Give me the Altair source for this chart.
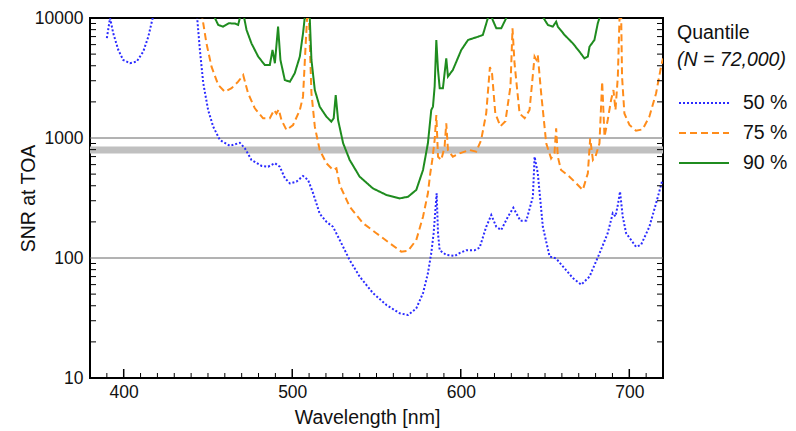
import altair as alt
import pandas as pd

# ---------------- data ----------------
wl_50 = [390, 391.9, 393.8, 396.8, 399.7, 403.7, 407.7, 411.6, 414.6, 417.2, 420, 440,
         443.6, 445.2, 447.2, 450.1, 453.1, 457.1, 463, 468.9, 471.9, 475.8, 481.8, 485.7,
         489.7, 492.6, 495.6, 498.6, 502.5, 506.4, 509.4, 512.4, 516.3, 520.3, 524.2, 528.2,
         534.1, 540, 547.9, 555.9, 563.8, 568.7, 573.6, 577.6, 580.5, 582.5, 583.9, 585.1,
         585.7, 586.5, 587.5, 591.4, 596.4, 599.3, 603.3, 608.2, 611.2, 615.1, 618.1, 621.1,
         624, 628, 631.2, 635.4, 638.9, 642.8, 643.8, 645.7, 648.7, 652.7, 656.6, 662.6,
         666.5, 671.5, 676.4, 682.3, 687.2, 690.2, 691.8, 693.2, 694.5, 696.1, 698.1, 704,
         707, 711.9, 715.9, 719.4]
snr_50 = [6800, 10000, 7450, 5410, 4470, 4200, 4330, 5250, 6980, 10000, 16000, 16000,
          10000, 5410, 2860, 1710, 1242, 962, 860, 912, 820, 656, 585, 577,
          617, 577, 464, 419, 433, 482, 447, 346, 234, 200, 182, 141,
          96, 70, 51, 40.6, 34.6, 33.5, 38, 51, 74.5, 110, 161, 268,
          346, 160, 116, 106, 104, 110, 116, 116, 122, 182, 228, 182,
          171, 221, 262, 204, 205, 324, 698, 508, 182, 103, 99, 79,
          68, 60, 70, 109, 161, 236, 222, 277, 357, 222, 161, 124,
          129, 182, 286, 433]

wl_75 = [445.5, 446.8, 449.1, 452.1, 456.1, 460, 464, 467.9, 470.9, 473.8, 477.8, 482.7,
         486.7, 489.2, 490.6, 492, 493.6, 496.6, 500.5, 504.5, 506.4, 508, 508.8, 509.6,
         510.4, 511.4, 513.4, 516.3, 520.3, 524.2, 526.2, 528.2, 534.1, 542, 549.9, 557.8,
         564.7, 568.7, 573.6, 577.6, 580.5, 581.9, 583.1, 584.5, 585.5, 586.5, 588.4, 590.4,
         591.4, 592.4, 595.3, 599.3, 605.2, 609.2, 612.1, 615.1, 617.3, 618.6, 620.5, 623.5,
         626.5, 629.5, 630.7, 631.9, 634.9, 637.9, 640.8, 643.8, 644.8, 645.7, 647.7, 650.7,
         653.6, 655.6, 656.6, 657.6, 659.5, 664.5, 668.5, 672.4, 675.4, 676.8, 678.4, 679.9,
         682.3, 683.9, 685.3, 687.2, 689.2, 690.6, 691.8, 693.2, 694.2, 694.7, 695.2, 695.7,
         697.1, 700.1, 704, 707.9, 711.9, 715.9, 718.8, 720]
snr_75 = [14000, 9800, 6150, 3930, 2765, 2430, 2600, 2945, 3350, 2357, 1768, 1460,
          1460, 1710, 1600, 1730, 1413, 1166, 1283, 1710, 2210, 6150, 10000, 14000,
          6150, 2360, 1242, 794, 615, 541, 560, 405, 268, 195, 161, 133,
          113, 115, 141, 221, 346, 508, 656, 962, 1555, 698, 656, 846,
          1325, 794, 698, 745, 794, 770, 962, 1606, 3900, 3400, 1600, 1250,
          1380, 2700, 8200, 4200, 1600, 1460, 1710, 4770, 4500, 4900, 2360, 904,
          676, 745, 1202, 698, 541, 476, 419, 369, 508, 994, 656, 698,
          904, 2945, 1026, 1413, 2075, 2510, 1710, 3250, 10000, 14000, 10000, 3250,
          1600, 1283, 1150, 1180, 1505, 2360, 3900, 4600]

wl_90 = [452.5, 454.1, 456.1, 459, 462.4, 466, 467.9, 468.9, 470.2, 471.5, 472.9, 475.8,
         479.8, 483.7, 486.7, 488.3, 489.7, 491.6, 493, 495.6, 498.6, 501.5, 504.5, 506.4,
         507.4, 509, 510.4, 511.4, 513.4, 516.3, 520.3, 523.2, 524.6, 525.8, 527.2, 530.2,
         534.1, 540, 547.9, 555.9, 563.8, 568.7, 573.6, 577.6, 580.5, 582.5, 583.5, 584.5,
         585.5, 586.5, 587.5, 589.4, 591.4, 592.4, 595.3, 600.3, 604.3, 610.2, 613.1, 616.1,
         617.5, 619, 621.1, 624, 627, 630, 645, 649.1, 651.7, 654.6, 656.6, 657.6,
         661.6, 666.5, 670.4, 673.4, 675.4, 676.4, 679.3, 681.3, 682.3, 684]
snr_90 = [14000, 10000, 8750, 8470, 9030, 9000, 8750, 10000, 13000, 10000, 7940, 6150,
          4770, 4060, 4060, 5410, 4200, 8470, 4470, 3040, 2945, 3470, 4770, 7450,
          10000, 15000, 10000, 4470, 2510, 1825, 1505, 1370, 1460, 2280, 1413, 904,
          656, 476, 380, 335, 314, 324, 369, 541, 904, 1710, 1825, 2680,
          6560, 3690, 2600, 2600, 4610, 3250, 3690, 5410, 6560, 6980, 7220, 10000,
          11000, 9600, 8200, 8200, 10000, 15000, 15000, 10000, 8750, 8470, 9320, 8470,
          7220, 6150, 5250, 4610, 4770, 5770, 6560, 9030, 10000, 15000]

quantiles = ["50 %", "75 %", "90 %"]
colors = ["#2b2bff", "#ff8c1a", "#1f8c1f"]
dashes = [[2, 2], [7, 4], [1, 0]]

y_major = [10, 100, 1000, 10000]
y_minor = [m * 10 ** e for e in (1, 2, 3) for m in range(2, 10)]
x_major = [400, 500, 600, 700]
x_minor = [w for w in range(390, 720, 10) if w % 100]
grid_vals = [100, 1000]
band_val = [794]

W, H = 573, 360
FONT = "Liberation Sans"

# ---------------- frames ----------------
frames = []
for q, wl, s in zip(quantiles, [wl_50, wl_75, wl_90], [snr_50, snr_75, snr_90]):
    frames.append(pd.DataFrame({"wl": wl, "snr": s, "q": q}))
curves = pd.concat(frames, ignore_index=True)

xscale = alt.Scale(domain=[380, 720], nice=False, zero=False)
yscale = alt.Scale(type="log", domain=[10, 10000], nice=False)

X = alt.X("wl:Q", scale=xscale,
          axis=alt.Axis(title="Wavelength [nm]", values=x_major, format="d",
                        grid=False, ticks=False, tickSize=0, domain=False,
                        labelFont=FONT, labelFontSize=17.5, labelColor="#111111",
                        labelPadding=5, titleFont=FONT, titleFontSize=19.5,
                        titleFontWeight="normal", titleColor="#111111",
                        titleX=277, titleY=45, titleBaseline="alphabetic"))
Y = alt.Y("snr:Q", scale=yscale,
          axis=alt.Axis(title="SNR at TOA", values=y_major, format="d",
                        grid=False, ticks=False, tickSize=0, domain=False,
                        labelFont=FONT, labelFontSize=17.5, labelColor="#111111",
                        labelPadding=7, titleFont=FONT, titleFontSize=19.5,
                        titleFontWeight="normal", titleColor="#111111",
                        titleX=-56, titleY=H / 2, titleBaseline="alphabetic",
                        titleAngle=-90))

grid = alt.Chart(pd.DataFrame({"snr": grid_vals})).mark_rule(
    color="#666666", strokeWidth=1).encode(y=Y)
band = alt.Chart(pd.DataFrame({"snr": band_val})).mark_rule(
    color="#c0c0c0", strokeWidth=7).encode(y=Y)

lines = alt.Chart(curves).mark_line(clip=True, strokeWidth=2).encode(
    x=X, y=Y,
    color=alt.Color("q:N", scale=alt.Scale(domain=quantiles, range=colors), legend=None),
    strokeDash=alt.StrokeDash("q:N", scale=alt.Scale(domain=quantiles, range=dashes), legend=None),
    order="wl:Q",
)

ym = pd.DataFrame({"snr": y_minor})
left_ticks = alt.Chart(ym).mark_rule(color="black", strokeWidth=1).encode(
    y=Y, x=alt.value(0), x2=alt.value(6))
right_ticks = alt.Chart(ym).mark_rule(color="black", strokeWidth=1).encode(
    y=Y, x=alt.value(W - 6), x2=alt.value(W))
bx_minor = alt.Chart(pd.DataFrame({"wl": x_minor})).mark_rule(color="black", strokeWidth=1).encode(
    x=X, y=alt.value(H - 5), y2=alt.value(H))
bx_major = alt.Chart(pd.DataFrame({"wl": x_major})).mark_rule(color="black", strokeWidth=1.5).encode(
    x=X, y=alt.value(H - 9), y2=alt.value(H))

# ---------------- manual legend ----------------
leg_layers = [
    alt.Chart(pd.DataFrame({"t": ["Quantile"]})).mark_text(
        align="left", baseline="middle", font=FONT, fontSize=19.5, color="#111111").encode(
        text="t:N", x=alt.value(587), y=alt.value(15)),
    alt.Chart(pd.DataFrame({"t": ["(N = 72,000)"]})).mark_text(
        align="left", baseline="middle", font=FONT, fontSize=19.5, fontStyle="italic",
        color="#111111").encode(text="t:N", x=alt.value(587), y=alt.value(42)),
]
for i, (q, c, d) in enumerate(zip(quantiles, colors, dashes)):
    yy = 85 + 30 * i
    leg_layers.append(alt.Chart(pd.DataFrame({"q": [q]})).mark_rule(
        color=c, strokeDash=d, strokeWidth=2).encode(
        x=alt.value(589), x2=alt.value(639), y=alt.value(yy)))
    leg_layers.append(alt.Chart(pd.DataFrame({"q": [q]})).mark_text(
        align="left", baseline="middle", font=FONT, fontSize=19.5, color="#111111").encode(
        text="q:N", x=alt.value(653), y=alt.value(yy)))

chart = alt.layer(grid, band, lines, left_ticks, right_ticks, bx_minor, bx_major,
                  *leg_layers).properties(
    width=W, height=H,
    padding={"left": 90, "top": 18, "right": 133, "bottom": 53},
    autosize=alt.AutoSizeParams(type="none"),
    background="white",
).configure_view(stroke="black", strokeWidth=2)

chart.save("out.html", embed_options={"renderer": "svg", "actions": False})
